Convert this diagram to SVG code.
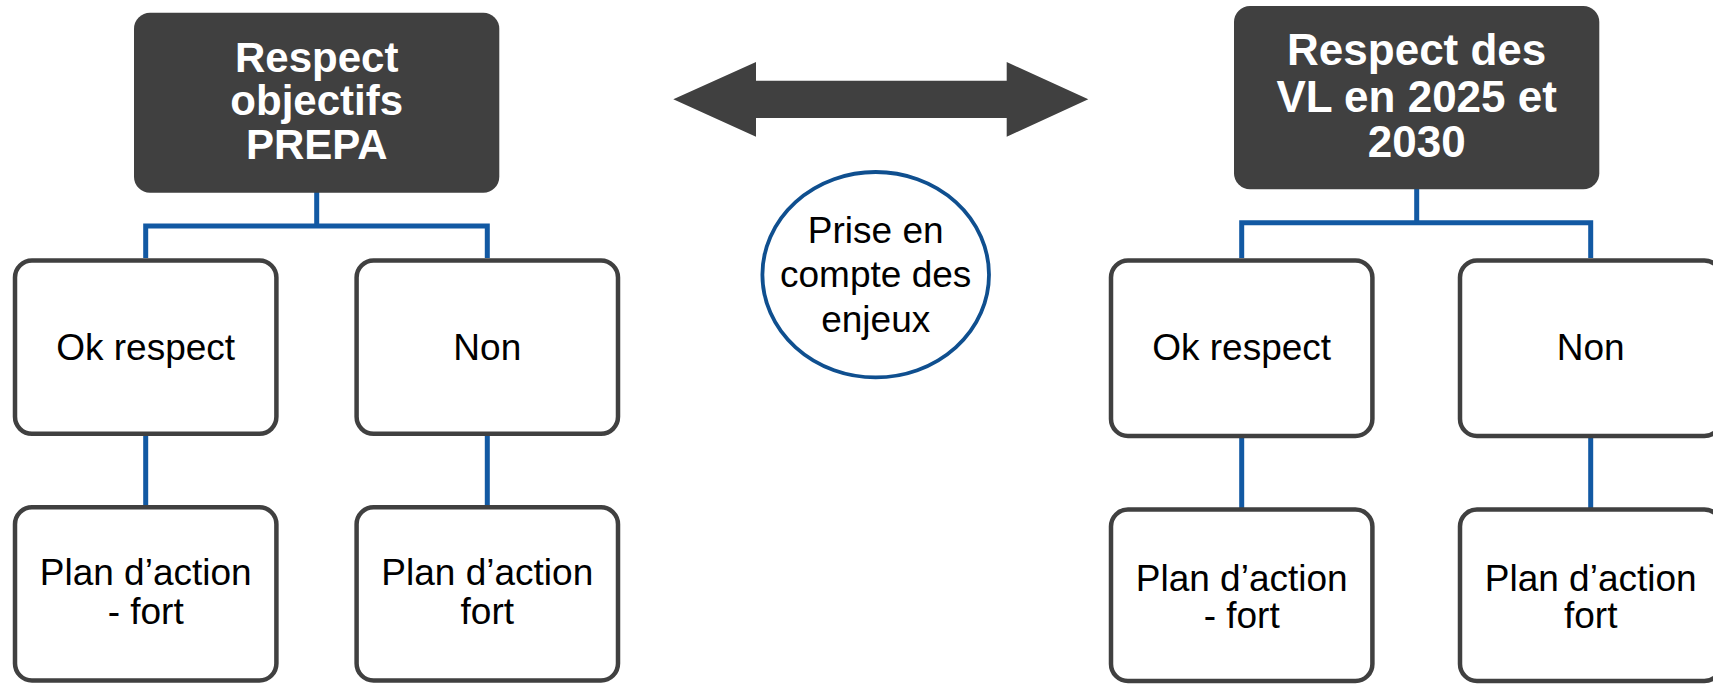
<svg xmlns="http://www.w3.org/2000/svg" width="1713" height="684" viewBox="0 0 1713 684">
<style>
.head{fill:#404040}
.box{fill:#ffffff;stroke:#404040;stroke-width:4.5}
.ht{font-family:"Liberation Sans",Arial,sans-serif;font-weight:bold;fill:#ffffff;text-anchor:middle}
.bt{font-family:"Liberation Sans",Arial,sans-serif;font-size:37px;fill:#000000;text-anchor:middle}
.conn{fill:none;stroke:#1259a3;stroke-width:5}
</style>
<rect width="1713" height="684" fill="#ffffff"/>
<g id="connectors">
<path class="conn" d="M316.7,192 V226 M145.7,258 V226 H487.3 V258"/>
<path class="conn" d="M1416.7,189 V222.7 M1241.7,258 V222.7 H1590.7 V258"/>
<path class="conn" d="M145.7,436 V505 M487.3,436 V505"/>
<path class="conn" d="M1241.7,438 V508 M1590.7,438 V508"/>
</g>
<g id="double-arrow">
<polygon fill="#404040" points="673.3,99.3 756,62 756,80.7 1006.7,80.7 1006.7,62 1088.3,99.3 1006.7,136.7 1006.7,118 756,118 756,136.7"/>
</g>
<g id="left-root">
<rect class="head" x="134" y="12.7" width="365.3" height="180" rx="16"/>
<text class="ht" font-size="42" x="316.7" y="71.7">Respect</text>
<text class="ht" font-size="42" x="316.7" y="115">objectifs</text>
<text class="ht" font-size="42" x="316.7" y="159.3">PREPA</text>
</g>
<g id="left-ok">
<rect class="box" x="15" y="260.5" width="261.4" height="173.3" rx="17"/>
<text class="bt" x="145.7" y="359.5">Ok respect</text>
</g>
<g id="left-non">
<rect class="box" x="356.6" y="260.5" width="261.4" height="173.3" rx="17"/>
<text class="bt" x="487.3" y="359.5">Non</text>
</g>
<g id="left-plan1">
<rect class="box" x="15" y="507.3" width="261.4" height="173.2" rx="17"/>
<text class="bt" x="145.7" y="585">Plan d’action</text>
<text class="bt" x="145.7" y="624">- fort</text>
</g>
<g id="left-plan2">
<rect class="box" x="356.6" y="507.3" width="261.4" height="173.2" rx="17"/>
<text class="bt" x="487.3" y="585">Plan d’action</text>
<text class="bt" x="487.3" y="624">fort</text>
</g>
<g id="centre-circle">
<ellipse cx="875.7" cy="274.7" rx="113.3" ry="102.7" fill="#ffffff" stroke="#0f4f8f" stroke-width="3.8"/>
<text class="bt" font-size="36.5" x="875.7" y="242.7">Prise en</text>
<text class="bt" font-size="36.5" x="875.7" y="287.3">compte des</text>
<text class="bt" font-size="36.5" x="875.7" y="331.7">enjeux</text>
</g>
<g id="right-root">
<rect class="head" x="1234" y="6" width="365.3" height="183.3" rx="16"/>
<text class="ht" font-size="44" x="1416.7" y="65">Respect des</text>
<text class="ht" font-size="44" x="1416.7" y="111.7">VL en 2025 et</text>
<text class="ht" font-size="44" x="1416.7" y="157.3">2030</text>
</g>
<g id="right-ok">
<rect class="box" x="1111" y="260.5" width="261.4" height="175.5" rx="17"/>
<text class="bt" x="1241.7" y="360">Ok respect</text>
</g>
<g id="right-non">
<rect class="box" x="1460" y="260.5" width="261.4" height="175.5" rx="17"/>
<text class="bt" x="1590.7" y="360">Non</text>
</g>
<g id="right-plan1">
<rect class="box" x="1111" y="509.5" width="261.4" height="171.5" rx="17"/>
<text class="bt" x="1241.7" y="590.7">Plan d’action</text>
<text class="bt" x="1241.7" y="628.3">- fort</text>
</g>
<g id="right-plan2">
<rect class="box" x="1460" y="509.5" width="261.4" height="171.5" rx="17"/>
<text class="bt" x="1590.7" y="590.7">Plan d’action</text>
<text class="bt" x="1590.7" y="628.3">fort</text>
</g>
</svg>
